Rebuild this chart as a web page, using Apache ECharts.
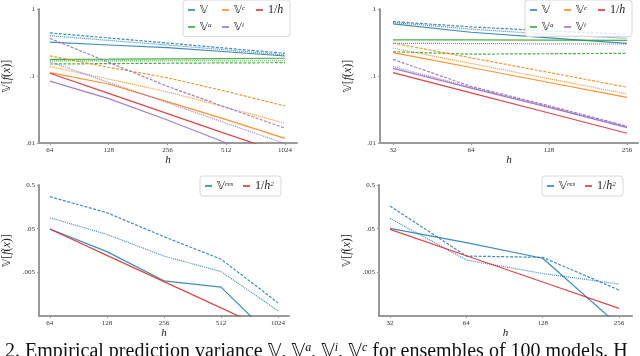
<!DOCTYPE html>
<html>
<head>
<meta charset="utf-8">
<script src="https://cdn.jsdelivr.net/npm/echarts@6/dist/echarts.min.js"></script>
</head>
<body style="margin:0">
<div id="main" style="width:640px;height:356px"></div>
<script>
// x values (h)
var hLeft = [64, 128, 256, 512, 1024];
var hRight = [32, 64, 128, 256];

// top left, each colour: [solid, dashed, dotted]
var tlBlue = [[0.32, 0.29, 0.265, 0.23, 0.199], [0.44, 0.37, 0.31, 0.26, 0.218], [0.40, 0.34, 0.29, 0.245, 0.206]];
var tlGreen = [[0.177, 0.178, 0.18, 0.182, 0.184], [0.151, 0.153, 0.155, 0.157, 0.158], [0.168, 0.168, 0.169, 0.169, 0.169]];
var tlOrange = [[0.112, 0.076, 0.0415, 0.0223, 0.0117], [0.2, 0.135, 0.094, 0.059, 0.0357], [0.138, 0.09, 0.058, 0.034, 0.0197]];
var tlPurple = [[0.084, 0.046, 0.022, 0.01, 0.0048], [0.365, 0.16, 0.07, 0.034, 0.0166], [0.164, 0.08, 0.04, 0.0197, 0.0098]];
var tlRed = [0.11, 0.055, 0.0275, 0.0137, 0.0069];

// top right
var trBlue = [[0.60, 0.45, 0.37, 0.307], [0.65, 0.54, 0.47, 0.42], [0.63, 0.50, 0.42, 0.365]];
var trGreen = [[0.345, 0.345, 0.343, 0.34], [0.23, 0.212, 0.215, 0.218], [0.307, 0.305, 0.302, 0.3]];
var trOrange = [[0.223, 0.134, 0.08, 0.048], [0.31, 0.187, 0.113, 0.068], [0.26, 0.154, 0.091, 0.054]];
var trPurple = [[0.13, 0.066, 0.034, 0.017], [0.177, 0.07, 0.036, 0.0178], [0.138, 0.068, 0.035, 0.0175]];
var trRed = [0.112, 0.056, 0.028, 0.014];

// bottom panels (residual variance)
var blRes = [[0.049, 0.0149, 0.0032, 0.0023, 0.00012], [0.27, 0.116, 0.0328, 0.01, 0.001], [0.089, 0.037, 0.0118, 0.0052, 0.00066]];
var blRed = [0.049, 0.01225, 0.00306, 0.000766, 0.00019];
var brRes = [[0.051, 0.024, 0.0105, 0.0003], [0.165, 0.0118, 0.011, 0.00197], [0.086, 0.0096, 0.0047, 0.0027]];
var brRed = [0.048, 0.012, 0.003, 0.00075];

// tick labels
var yTopTicks = [1, 0.1, 0.01];
var yTopText = ['1', '.1', '.01'];
var yBotTicks = [0.5, 0.05, 0.005];
var yBotText = ['0.5', '.05', '.005'];

var serif = "'Liberation Serif', 'DejaVu Serif', serif";
var dashTypes = ['solid', [3, 1.5], [1, 1]];
var cBlue = '#1f77b4', cOrange = '#ff7f0e', cGreen = '#2ca02c', cRed = '#d62728', cPurple = '#9467bd';

var chart = echarts.init(document.getElementById('main'));

var mathRich = {
    v: {fontFamily: 'DejaVu Sans', fontSize: 11, color: '#222'},
    t: {fontFamily: serif, fontSize: 12, color: '#222'},
    i: {fontFamily: serif, fontStyle: 'italic', fontSize: 12, color: '#222'},
    s: {fontFamily: serif, fontStyle: 'italic', fontSize: 7, color: '#222', verticalAlign: 'top'}
};

function legendLabel(name) {
    if (name === 'V') return '{v|𝕍}';
    if (name === '1/h') return '{t|1/}{i|h}';
    if (name === '1/h^2') return '{t|1/}{i|h}{s|2}';
    var p = name.split('^');
    return '{v|𝕍}{s|' + p[1] + '}';
}

function legendFor(names, left, top, width, textW) {
    return {
        data: names, left: left, top: top, width: width, orient: 'horizontal',
        icon: 'rect', itemWidth: 7, itemHeight: 1.5, itemGap: 5,
        padding: [4, 5, 4, 5], backgroundColor: 'rgba(255,255,255,0.8)',
        borderColor: '#d8d8d8', borderWidth: 1, borderRadius: 3,
        selectedMode: false, formatter: legendLabel,
        textStyle: {width: textW, lineHeight: 11, rich: mathRich}
    };
}

function xAxisFor(i, ticks, lo, hi, gap) {
    return {
        type: 'log', logBase: 2, gridIndex: i, min: lo, max: hi,
        name: 'h', nameLocation: 'middle', nameGap: gap,
        nameTextStyle: {fontFamily: serif, fontStyle: 'italic', fontSize: 11, color: '#222'},
        axisLine: {lineStyle: {color: '#999', width: 2}},
        axisTick: {show: true, customValues: ticks, length: 2, lineStyle: {color: '#999'}},
        axisLabel: {
            customValues: ticks, fontFamily: serif, fontSize: 7, color: '#333', margin: 4,
            formatter: function (v) { return String(Math.round(v)); }
        },
        splitLine: {show: false}, minorTick: {show: false}
    };
}

function yAxisFor(i, ticks, texts, lo, hi, gap) {
    return {
        type: 'log', logBase: 10, gridIndex: i, min: lo, max: hi,
        name: '{v|𝕍}{t|[}{i|f}{t|(}{i|x}{t|)]}', nameLocation: 'middle', nameRotate: 90, nameGap: gap,
        nameTextStyle: {rich: mathRich},
        axisLine: {lineStyle: {color: '#999', width: 2}},
        axisTick: {show: true, customValues: ticks, length: 2, lineStyle: {color: '#999'}},
        axisLabel: {
            customValues: ticks, fontFamily: serif, fontSize: 7, color: '#333', margin: 4,
            formatter: function (v) {
                for (var k = 0; k < ticks.length; k++) {
                    if (Math.abs(v / ticks[k] - 1) < 1e-6) return texts[k];
                }
                return '';
            }
        },
        splitLine: {show: false}, minorTick: {show: false}
    };
}

var series = [];
function addGroup(gi, hs, rows, name, color) {
    rows.forEach(function (vals, k) {
        series.push({
            type: 'line', name: name, xAxisIndex: gi, yAxisIndex: gi, symbol: 'none', silent: true,
            data: hs.map(function (h, j) { return [h, vals[j]]; }),
            lineStyle: {color: color, width: 1.2, type: dashTypes[k], opacity: 0.85},
            itemStyle: {color: color}
        });
    });
}

addGroup(0, hLeft, tlBlue, 'V', cBlue);
addGroup(0, hLeft, tlGreen, 'V^a', cGreen);
addGroup(0, hLeft, tlOrange, 'V^c', cOrange);
addGroup(0, hLeft, tlPurple, 'V^i', cPurple);
addGroup(0, hLeft, [tlRed], '1/h', cRed);

addGroup(1, hRight, trBlue, 'V', cBlue);
addGroup(1, hRight, trGreen, 'V^a', cGreen);
addGroup(1, hRight, trOrange, 'V^c', cOrange);
addGroup(1, hRight, trPurple, 'V^i', cPurple);
addGroup(1, hRight, [trRed], '1/h', cRed);

addGroup(2, hLeft, blRes, 'V^res', cBlue);
addGroup(2, hLeft, [blRed], '1/h^2', cRed);
addGroup(3, hRight, brRes, 'V^res', cBlue);
addGroup(3, hRight, [brRed], '1/h^2', cRed);

var topNames = ['V', 'V^c', '1/h', 'V^a', 'V^i'];
var botNames = ['V^res', '1/h^2'];

var option = {
    animation: false,
    backgroundColor: '#fff',
    grid: [
        {left: 38, top: 9, width: 259, height: 134},
        {left: 380, top: 9, width: 258, height: 134},
        {left: 37, top: 185, width: 252, height: 131},
        {left: 379, top: 185, width: 253, height: 131}
    ],
    xAxis: [
        xAxisFor(0, hLeft, 56.3, 1179, 10),
        xAxisFor(1, hRight, 28.5, 282.4, 10),
        xAxisFor(2, hLeft, 56.1, 1169, 10),
        xAxisFor(3, hRight, 28.95, 288, 10)
    ],
    yAxis: [
        yAxisFor(0, yTopTicks, yTopText, 0.01, 1, 26),
        yAxisFor(1, yTopTicks, yTopText, 0.01, 1, 26),
        yAxisFor(2, yBotTicks, yBotText, 0.0005, 0.5, 26),
        yAxisFor(3, yBotTicks, yBotText, 0.0005, 0.5, 26)
    ],
    legend: [
        legendFor(topNames, 183, 0, 104, 17),
        legendFor(topNames, 525, 0, 104, 17),
        legendFor(botNames, 200, 176, 80, 21),
        legendFor(botNames, 542, 176, 80, 21)
    ],
    graphic: [{
        type: 'text', left: 5, top: 342, silent: true,
        style: {
            text: '2. Empirical prediction variance {v|𝕍}, {v|𝕍}{s|a}, {v|𝕍}{s|i}, {v|𝕍}{s|c} for ensembles of 100 models. H',
            fontFamily: serif, fontSize: 20, fill: '#111',
            rich: {
                v: {fontFamily: 'DejaVu Sans', fontSize: 19, fill: '#111'},
                s: {fontFamily: serif, fontStyle: 'italic', fontSize: 12, fill: '#111', verticalAlign: 'top'}
            }
        }
    }],
    series: series
};
chart.setOption(option);
</script>
</body>
</html>
